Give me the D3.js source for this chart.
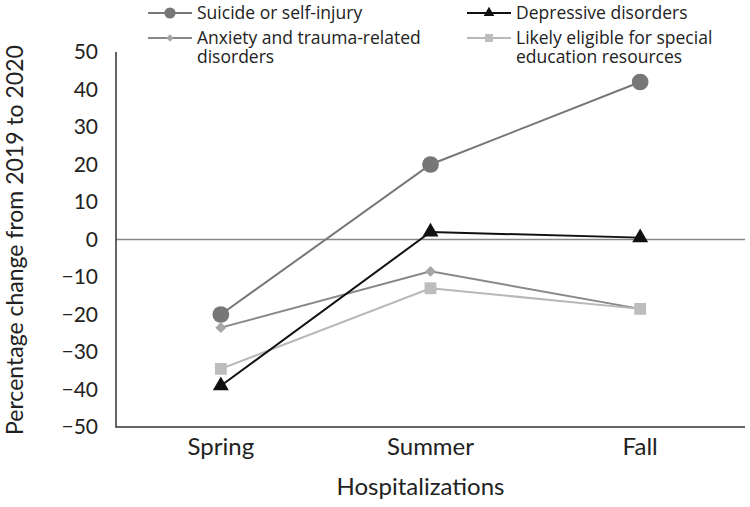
<!DOCTYPE html>
<html>
<head>
<meta charset="utf-8">
<script src="https://cdn.jsdelivr.net/npm/d3@7"></script>
<style>
  body { margin: 0; background: #fff; }
  text { font-family: Lato, "Open Sans", sans-serif; fill: #222; }
</style>
</head>
<body>
<div id="chart"></div>
<script>
const seasons = ["Spring", "Summer", "Fall"];
const yTicks = [50, 40, 30, 20, 10, 0, -10, -20, -30, -40, -50];

const suicide = [-20, 20, 42];
const depressive = [-39, 2, 0.5];
const anxiety = [-23.5, -8.5, -18.5];
const specialEd = [-34.5, -13, -18.5];

const series = [
  {name: ["Anxiety and trauma-related", "disorders"], values: anxiety, line: "#888", fill: "#a6a6a6", shape: d3.symbolSquare, rot: 45, size: 60},
  {name: ["Likely eligible for special", "education resources"], values: specialEd, line: "#b8b8b8", fill: "#bdbdbd", shape: d3.symbolSquare, rot: 0, size: 140},
  {name: ["Suicide or self-injury"], values: suicide, line: "#777", fill: "#777", shape: d3.symbolCircle, rot: 0, size: 220},
  {name: ["Depressive disorders"], values: depressive, line: "#111", fill: "#111", shape: d3.symbolTriangle, rot: 0, size: 110}
];

const width = 750, height = 507;
const margin = {top: 52, right: 5, bottom: 80, left: 116};

const svg = d3.select("#chart").append("svg")
  .attr("width", width)
  .attr("height", height);

const x = d3.scaleBand()
  .domain(seasons)
  .range([margin.left, width - margin.right]);

const y = d3.scaleLinear()
  .domain([-50, 50])
  .range([height - margin.bottom, margin.top]);

// y tick labels
svg.append("g")
  .attr("transform", "translate(" + margin.left + ",0)")
  .call(d3.axisLeft(y).tickValues(yTicks).tickSize(0).tickPadding(18).tickFormat(d => d < 0 ? "\u2212" + Math.abs(d) : d))
  .call(g => g.select(".domain").remove())
  .selectAll("text")
    .style("font-size", "21px")
    .attr("fill", "#222");

// x tick labels
svg.append("g")
  .attr("transform", "translate(0," + (height - margin.bottom) + ")")
  .call(d3.axisBottom(x).tickSize(0).tickPadding(11))
  .call(g => g.select(".domain").remove())
  .selectAll("text")
    .style("font-size", "24px")
    .attr("fill", "#222");

// zero line
svg.append("line")
  .attr("x1", margin.left).attr("x2", width - margin.right)
  .attr("y1", y(0)).attr("y2", y(0))
  .attr("stroke", "#888").attr("stroke-width", 1.5);

// axis frame
svg.append("path")
  .attr("d", "M" + margin.left + "," + y(50) + "V" + y(-50) + "H" + (width - margin.right))
  .attr("fill", "none")
  .attr("stroke", "#333")
  .attr("stroke-width", 1.5);

// axis titles
svg.append("text")
  .attr("transform", "translate(23,240) rotate(-90)")
  .attr("text-anchor", "middle")
  .style("font-size", "23px")
  .text("Percentage change from 2019 to 2020");

svg.append("text")
  .attr("x", (margin.left + width - margin.right) / 2 - 10)
  .attr("y", 495)
  .attr("text-anchor", "middle")
  .style("font-size", "24px")
  .text("Hospitalizations");

// lines and markers
const line = d3.line()
  .x((d, i) => x(seasons[i]) + x.bandwidth() / 2)
  .y(d => y(d));

series.forEach(s => {
  svg.append("path")
    .datum(s.values)
    .attr("d", line)
    .attr("fill", "none")
    .attr("stroke", s.line)
    .attr("stroke-width", 2);

  svg.selectAll(null)
    .data(s.values)
    .enter()
    .append("path")
      .attr("d", d3.symbol().type(s.shape).size(s.size))
      .attr("transform", (d, i) => "translate(" + (x(seasons[i]) + x.bandwidth() / 2) + "," + y(d) + ") rotate(" + s.rot + ")")
      .attr("fill", s.fill);
});

// legend: suicide/depressive on row 1, anxiety/special on row 2
const legendPos = [
  {x: 148, y: 38},
  {x: 467, y: 38},
  {x: 148, y: 13},
  {x: 467, y: 13}
];

series.forEach((s, i) => {
  const p = legendPos[i];
  const g = svg.append("g").attr("transform", "translate(" + p.x + "," + p.y + ")");
  g.append("line")
    .attr("x1", 0).attr("x2", 44)
    .attr("stroke", s.line).attr("stroke-width", 2);
  g.append("path")
    .attr("d", d3.symbol().type(s.shape).size(s.size * 0.45))
    .attr("transform", "translate(22,0) rotate(" + s.rot + ")")
    .attr("fill", s.fill);
  const label = g.append("text")
    .attr("y", 6)
    .style("font-family", "'Open Sans', sans-serif")
    .style("font-size", "17.5px");
  s.name.forEach((t, j) => {
    label.append("tspan")
      .attr("x", 49)
      .attr("dy", j === 0 ? 0 : 19)
      .text(t);
  });
});
</script>
</body>
</html>
